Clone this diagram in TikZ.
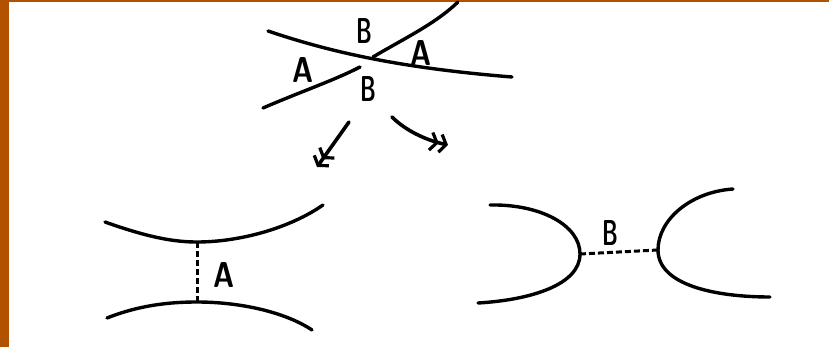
\documentclass[tikz,border=0pt]{standalone}
\usetikzlibrary{arrows.meta}
\definecolor{frame}{RGB}{178,82,0}
\tikzset{
  curve/.style={line width=3.4pt, line cap=round},
  link/.style={line width=3pt, dash pattern=on 6pt off 3pt},
  lbl/.style={inner sep=0pt, font=\fontsize{36}{36}\selectfont\sffamily\bfseries},
  flow/.style={line width=3.6pt, line cap=round,
    -{Straight Barb[length=6pt,width=18pt,line width=3.2pt]Straight Barb[length=6pt,width=18pt,line width=3.2pt]}}
}
\newcommand{\hw}[1]{\scalebox{0.6}[1]{#1}}
\newcommand{\hwa}[1]{\scalebox{0.8}[1]{#1}}
\begin{document}
\begin{tikzpicture}[x=1pt,y=-1pt]
\useasboundingbox (0,0) rectangle (829,347);
\fill[white] (0,0) rectangle (829,347);
\fill[frame] (0,0) rectangle (9,347);
\fill[frame] (0,0) rectangle (829,2);

% top crossing
\draw[curve] (268,31) .. controls (330,52) and (400,68) .. (512,77);
\draw[curve] (263,108) .. controls (300,92) and (335,80) .. (360,67);
\draw[curve] (373,57) .. controls (405,38) and (435,24) .. (458,2);
\node[lbl] (tB) at (364,31) {\hw{B}};
\node[lbl] (rA) at (421,53) {\hwa{A}};
\node[lbl] (lA) at (303,70) {\hwa{A}};
\node[lbl] (bB) at (368,89) {\hw{B}};

% arrows
\coordinate (a1s) at (349,122);
\coordinate (a1e) at (317,167);
\coordinate (a2s) at (392,117);
\coordinate (a2e) at (448,145);
\draw[flow] (a1s) -- (a1e);
\draw[flow] (a2s) .. controls (405,130) and (425,140) .. (a2e);

% bottom left
\coordinate (ut) at (197,242);
\coordinate (lt) at (197,302);
\draw[curve] (105,222) .. controls (150,238) and (175,242) .. (ut) .. controls (240,242) and (290,228) .. (323,205);
\draw[curve] (107,318) .. controls (140,305) and (170,302) .. (lt) .. controls (240,302) and (285,312) .. (312,330);
\draw[link] (ut) -- (lt);
\node[lbl] (cA) at (224,275) {\hwa{A}};

% bottom right
\coordinate (lr) at (580,254);
\coordinate (rl) at (658,250);
\draw[curve] (490,205) .. controls (540,204) and (580,225) .. (lr) .. controls (580,285) and (530,300) .. (478,303);
\draw[curve] (733,189) .. controls (690,192) and (658,220) .. (rl) .. controls (658,285) and (715,297) .. (770,297);
\draw[link] (lr) -- (rl);
\node[lbl] (cB) at (610,233) {\hw{B}};
\end{tikzpicture}
\end{document}
